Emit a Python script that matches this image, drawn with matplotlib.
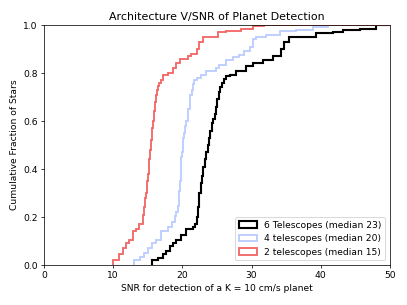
import numpy as np
import matplotlib.pyplot as plt

# SNR where each cumulative curve steps up, and the fraction of stars reached there
snr_6 = [15.6, 16.5, 17.2, 17.7, 18.2, 18.7, 19.2, 19.9, 20.6, 21.6, 21.9, 22.1, 22.3, 22.5,
         22.7, 22.9, 23.1, 23.3, 23.5, 23.7, 23.9, 24.1, 24.3, 24.5, 24.7, 24.9, 25.1, 25.3,
         25.5, 25.8, 26.1, 26.4, 26.9, 27.8, 29.3, 30.3, 31.7, 33.1, 34.3, 34.8, 35.5, 39.4,
         41.8, 43.3, 45.7, 48.1]
frac_6 = [0.02, 0.03, 0.045, 0.06, 0.08, 0.09, 0.105, 0.125, 0.15, 0.16, 0.17, 0.20, 0.24, 0.30,
          0.34, 0.37, 0.41, 0.44, 0.47, 0.50, 0.53, 0.56, 0.59, 0.61, 0.63, 0.66, 0.69, 0.72,
          0.74, 0.76, 0.775, 0.786, 0.79, 0.81, 0.83, 0.84, 0.855, 0.87, 0.90, 0.93, 0.95, 0.965,
          0.97, 0.98, 0.985, 1.0]

snr_4 = [13.0, 13.9, 14.5, 15.1, 15.6, 16.3, 17.0, 18.0, 18.5, 19.0, 19.2, 19.4, 19.5, 19.6,
         19.7, 19.8, 19.9, 20.0, 20.1, 20.2, 20.3, 20.5, 20.6, 20.8, 20.9, 21.1, 21.2, 21.4,
         21.6, 21.8, 22.1, 22.8, 23.5, 24.9, 25.4, 26.4, 27.4, 28.3, 29.0, 29.8, 30.3, 30.7,
         32.2, 34.1, 36.5, 38.9, 41.1]
frac_4 = [0.02, 0.033, 0.05, 0.07, 0.09, 0.105, 0.14, 0.16, 0.18, 0.205, 0.22, 0.245, 0.28, 0.31,
          0.35, 0.40, 0.45, 0.47, 0.50, 0.53, 0.55, 0.58, 0.60, 0.63, 0.65, 0.68, 0.71, 0.73,
          0.755, 0.77, 0.78, 0.79, 0.81, 0.82, 0.835, 0.855, 0.867, 0.876, 0.89, 0.91, 0.94, 0.95,
          0.96, 0.975, 0.98, 0.99, 1.0]

snr_2 = [10.1, 10.9, 11.5, 11.9, 12.4, 12.9, 13.4, 13.8, 14.3, 14.4, 14.5, 14.6, 14.7, 14.8,
         14.9, 15.0, 15.1, 15.2, 15.3, 15.4, 15.5, 15.6, 15.7, 15.8, 15.9, 16.0, 16.1, 16.2,
         16.3, 16.4, 16.5, 16.7, 16.9, 17.2, 18.0, 18.7, 19.2, 19.7, 20.9, 21.3, 22.1, 22.5,
         23.0, 25.2, 26.4, 28.6, 30.3, 31.9]
frac_2 = [0.022, 0.046, 0.07, 0.09, 0.105, 0.14, 0.15, 0.17, 0.19, 0.21, 0.24, 0.26, 0.28, 0.30,
          0.32, 0.35, 0.38, 0.41, 0.44, 0.48, 0.52, 0.55, 0.57, 0.60, 0.62, 0.64, 0.68, 0.70,
          0.71, 0.73, 0.745, 0.76, 0.77, 0.79, 0.80, 0.82, 0.84, 0.86, 0.87, 0.88, 0.90, 0.93,
          0.95, 0.97, 0.975, 0.985, 0.995, 1.0]

labels = ['6 Telescopes (median 23)', '4 telescopes (median 20)', '2 telescopes (median 15)']

fig, ax = plt.subplots(figsize=(407 / 66, 305 / 66), dpi=66)

curves = [(snr_6, frac_6, 'black', 2.3),
          (snr_4, frac_4, '#bccdff', 2.0),
          (snr_2, frac_2, '#f26666', 2.0)]
for (snr, frac, color, lw), label in zip(curves, labels):
    w = np.diff(np.concatenate([[0], frac]))
    bins = np.arange(snr[0] - 0.05, 60, 0.1)
    ax.hist(snr, bins=bins, weights=w, cumulative=True,
            histtype='step', color=color, lw=lw, label=label)

ax.set_xlim(0, 50)
ax.set_ylim(0, 1)
ax.set_title('Architecture V/SNR of Planet Detection')
ax.set_xlabel('SNR for detection of a K = 10 cm/s planet')
ax.set_ylabel('Cumulative Fraction of Stars')
ax.legend(loc='lower right')

plt.subplots_adjust(left=0.108, right=0.958, top=0.918, bottom=0.131)
plt.savefig('out.png')
